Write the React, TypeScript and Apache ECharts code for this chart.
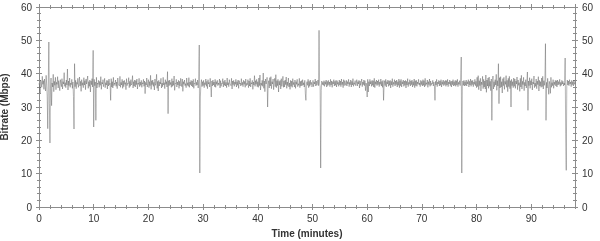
import React, { useEffect, useRef } from "react";
import * as echarts from "echarts";

// Sampling step of the recording (minutes per sample)
const STEP_MIN = 0.1;

// Bitrate samples (Mbps), one every 0.1 minutes from 0 to 98 min (one row per minute)
const bitrate: number[] = [
  37.1, 36.4, 34.2, 38.0, 37.5, 35.9, 39.2, 36.8, 37.9, 35.3,
  38.4, 36.2, 34.8, 39.5, 36.9, 33.1, 23.5, 37.8, 49.5, 31.0,
  19.2, 35.5, 38.7, 30.4, 37.2, 36.0, 39.8, 34.6, 37.7, 36.5,
  38.9, 35.2, 37.4, 36.8, 39.1, 35.7, 37.9, 36.3, 34.9, 38.2,
  37.0, 36.1, 38.5, 35.4, 37.6, 36.9, 40.3, 36.2, 37.3, 35.8,
  38.1, 36.6, 41.4, 35.1, 37.8, 36.4, 38.7, 35.9, 37.2, 36.7,
  38.3, 35.6, 37.5, 33.2, 23.4, 43.0, 36.1, 38.0, 35.5, 37.4,
  36.8, 38.6, 35.9, 37.1, 39.0, 36.3, 37.7, 34.7, 38.2, 36.5,
  37.3, 35.8, 38.8, 36.6, 37.9, 35.2, 38.4, 36.9, 37.0, 39.3,
  35.6, 37.6, 36.2, 38.1, 34.5, 37.8, 36.7, 38.5, 36.0, 47.0,
  24.0, 38.3, 36.4, 37.5, 26.0, 38.9, 35.7, 37.2, 36.8, 38.0,
  35.9, 37.7, 36.5, 39.1, 35.3, 37.4, 36.9, 38.2, 36.1, 37.0,
  38.6, 35.8, 37.3, 36.6, 38.0, 35.4, 37.9, 36.3, 38.4, 36.7,
  37.1, 32.0, 38.5, 36.0, 37.6, 35.7, 38.9, 36.4, 37.2, 36.8,
  38.1, 36.2, 37.5, 35.5, 38.7, 36.9, 37.0, 36.3, 39.2, 35.9,
  37.4, 36.6, 38.3, 35.6, 37.8, 36.1, 38.0, 36.8, 37.3, 35.2,
  38.5, 36.4, 37.1, 36.9, 38.8, 35.8, 37.7, 36.2, 38.2, 36.6,
  37.0, 39.4, 35.7, 37.6, 36.3, 38.1, 36.0, 37.9, 36.7, 38.4,
  35.4, 37.2, 36.8, 38.6, 36.1, 37.5, 36.5, 38.0, 35.9, 37.3,
  36.9, 38.3, 36.2, 37.8, 34.0, 37.4, 36.6, 38.7, 36.0, 37.1,
  38.2, 35.8, 37.6, 36.4, 39.5, 35.3, 37.9, 36.7, 38.1, 36.2,
  37.4, 35.1, 38.4, 36.5, 37.0, 39.8, 35.6, 37.7, 34.8, 38.0,
  36.3, 37.5, 36.9, 38.6, 35.7, 37.2, 36.1, 38.9, 36.6, 37.3,
  35.5, 38.2, 36.8, 37.6, 36.0, 40.6, 28.0, 37.9, 36.4, 38.1,
  36.7, 37.4, 35.9, 38.5, 36.2, 37.8, 36.5, 39.3, 35.0, 37.1,
  36.9, 38.3, 36.0, 37.5, 36.6, 38.0, 35.6, 37.7, 36.3, 38.6,
  37.2, 36.1, 38.4, 34.7, 37.6, 36.8, 38.1, 36.4, 37.0, 35.8,
  38.7, 36.5, 37.3, 36.2, 38.8, 35.9, 37.5, 36.7, 38.0, 36.3,
  37.8, 36.0, 38.3, 35.6, 37.1, 36.9, 38.5, 36.4, 37.4, 36.6,
  38.1, 35.7, 37.9, 48.6, 10.2, 33.0, 36.8, 38.2, 36.1, 37.6,
  36.4, 38.0, 35.8, 37.3, 36.7, 38.4, 36.2, 37.7, 35.5, 38.2,
  36.9, 37.4, 36.0, 38.6, 36.5, 33.0, 37.8, 36.3, 38.1, 36.6,
  37.5, 36.1, 38.3, 35.9, 37.6, 36.8, 38.0, 36.4, 37.2, 36.7,
  38.4, 35.7, 37.9, 36.2, 37.1, 36.9, 38.5, 36.0, 37.7, 36.5,
  38.1, 36.3, 37.4, 35.8, 38.7, 36.6, 37.3, 36.1, 38.2, 36.9,
  37.0, 36.4, 38.6, 35.4, 37.8, 36.7, 38.0, 36.2, 37.5, 36.8,
  38.3, 36.0, 37.6, 36.5, 38.1, 35.6, 37.9, 36.9, 37.2, 36.3,
  38.5, 36.6, 37.4, 36.1, 38.0, 36.8, 37.7, 35.9, 38.4, 36.4,
  37.1, 36.7, 38.2, 35.8, 37.8, 36.3, 38.6, 36.0, 37.3, 36.9,
  38.0, 35.3, 37.5, 36.6, 39.4, 36.2, 37.9, 36.8, 38.3, 36.1,
  37.6, 35.9, 38.7, 36.4, 39.6, 35.1, 37.2, 36.5, 38.0, 36.2,
  40.2, 35.6, 37.8, 34.6, 38.4, 36.9, 37.1, 38.9, 30.0, 36.7,
  37.9, 35.7, 38.8, 36.3, 39.1, 35.5, 37.6, 36.9, 38.4, 35.2,
  37.4, 38.6, 36.1, 39.7, 35.8, 37.9, 36.4, 38.3, 34.5, 37.7,
  36.6, 38.0, 35.4, 38.5, 36.2, 37.3, 39.2, 35.9, 37.8, 36.0,
  38.1, 36.7, 39.0, 35.6, 37.5, 36.4, 38.7, 36.0, 37.2, 35.3,
  38.0, 36.2, 37.8, 35.9, 38.5, 36.7, 37.4, 36.0, 38.1, 35.6,
  37.6, 36.8, 38.3, 36.1, 37.0, 36.5, 38.6, 35.8, 37.7, 36.3,
  37.9, 36.4, 38.2, 36.6, 37.3, 36.0, 38.0, 34.0, 32.0, 36.9,
  37.6, 36.5, 38.3, 35.8, 37.7, 36.2, 38.1, 36.7, 37.4, 36.0,
  36.6, 38.0, 36.1, 37.5, 36.9, 38.4, 36.3, 37.8, 36.5, 37.2,
  38.1, 36.4, 53.0, 37.0, 36.2, 11.7, 35.0, 37.8, 36.7, 37.4,
  36.5, 37.9, 36.2, 37.6, 36.8, 38.1, 36.0, 37.7, 36.4, 38.0,
  36.7, 37.5, 36.1, 38.3, 36.6, 37.8, 35.9, 37.6, 36.9, 38.2,
  36.3, 37.7, 36.5, 38.0, 36.0, 37.9, 36.8, 37.4, 36.2, 38.1,
  36.6, 37.8, 36.1, 38.4, 36.7, 37.5, 35.8, 38.2, 36.4, 37.9,
  37.2, 36.5, 38.0, 36.3, 37.6, 36.9, 38.3, 36.1, 37.4, 36.7,
  38.1, 36.0, 37.7, 36.6, 38.5, 36.2, 37.3, 36.8, 37.9, 36.4,
  37.0, 38.2, 36.3, 37.6, 36.9, 38.0, 35.7, 37.8, 36.5, 37.3,
  38.4, 36.1, 37.5, 36.7, 38.1, 36.4, 37.9, 34.9, 37.2, 36.6,
  33.0, 38.3, 34.5, 37.6, 36.3, 38.3, 36.9, 37.7, 36.2, 38.0,
  36.5, 37.9, 36.0, 38.6, 35.8, 37.6, 36.8, 38.1, 36.4, 37.8,
  36.7, 38.2, 36.1, 37.5, 36.8, 38.4, 36.3, 37.7, 35.9, 38.0,
  32.0, 36.6, 37.9, 36.4, 38.3, 36.0, 37.6, 36.9, 38.1, 36.2,
  37.8, 36.5, 38.0, 35.7, 37.7, 36.6, 38.5, 36.1, 37.4, 36.8,
  38.2, 36.3, 37.8, 36.7, 38.1, 36.0, 37.6, 36.5, 38.4, 35.8,
  37.9, 36.4, 38.3, 36.0, 37.6, 36.9, 38.1, 36.2, 37.8, 36.5,
  38.0, 35.7, 37.7, 36.6, 38.5, 36.1, 37.4, 36.8, 38.2, 36.3,
  37.8, 36.7, 38.1, 36.0, 37.6, 36.5, 38.4, 35.8, 37.9, 36.4,
  38.0, 36.2, 37.5, 36.9, 38.3, 36.6, 37.2, 36.1, 38.0, 36.7,
  37.7, 36.3, 38.2, 36.5, 37.9, 36.0, 38.6, 36.4, 37.3, 36.8,
  38.1, 35.9, 37.6, 36.7, 38.4, 36.2, 37.8, 36.5, 37.1, 36.9,
  38.0, 36.3, 37.5, 36.6, 32.0, 37.7, 36.6, 38.3, 36.1, 37.5,
  36.9, 38.0, 36.3, 37.8, 36.5, 38.2, 36.0, 37.6, 36.8, 38.1,
  36.4, 37.7, 36.7, 38.0, 36.2, 37.9, 36.6, 38.3, 36.1, 37.5,
  36.9, 38.1, 36.4, 37.7, 36.0, 37.8, 36.7, 38.2, 36.3, 37.6,
  36.5, 38.0, 36.2, 37.9, 36.6, 38.3, 36.1, 37.4, 36.8, 37.9,
  36.4, 38.1, 45.0, 10.2, 36.1, 37.8, 36.5, 38.0, 36.3, 37.6,
  36.5, 38.1, 36.3, 37.6, 36.9, 38.2, 36.0, 37.7, 36.6, 38.4,
  36.2, 37.9, 36.7, 38.0, 36.1, 37.5, 36.8, 38.3, 36.4, 37.7,
  35.8, 38.9, 36.1, 39.4, 35.2, 37.9, 36.4, 38.6, 34.8, 37.5,
  36.7, 39.2, 35.5, 38.3, 36.0, 37.8, 35.4, 39.6, 34.4, 38.1,
  36.3, 38.7, 35.6, 39.0, 36.2, 37.7, 34.9, 38.4, 26.0, 37.2,
  39.3, 35.4, 37.6, 36.1, 38.2, 36.6, 39.8, 35.0, 37.9, 36.3,
  43.0, 31.0, 38.8, 35.7, 39.1, 36.0, 37.6, 34.2, 38.5, 36.4,
  38.9, 35.3, 37.7, 36.8, 39.4, 35.9, 38.0, 34.6, 38.6, 36.1,
  39.2, 35.5, 37.9, 30.0, 38.3, 36.4, 37.6, 35.8, 38.7, 36.2,
  38.4, 35.6, 37.8, 36.9, 39.0, 35.2, 38.1, 36.5, 37.3, 34.7,
  38.6, 36.0, 39.5, 35.4, 37.7, 36.7, 38.9, 34.9, 37.4, 36.3,
  38.2, 35.7, 37.6, 40.5, 29.0, 37.8, 36.4, 38.8, 35.6, 37.9,
  36.6, 38.5, 35.1, 37.5, 36.9, 39.3, 35.8, 37.2, 36.2, 38.4,
  35.5, 37.8, 36.7, 39.1, 34.8, 38.0, 36.3, 37.6, 35.9, 38.7,
  36.1, 39.2, 35.4, 37.9, 36.5, 38.3, 49.0, 26.0, 37.4, 35.7,
  38.6, 36.2, 33.8, 37.7, 36.8, 34.1, 38.9, 35.9, 37.3, 36.4,
  38.2, 35.6, 37.5, 36.7, 38.0, 36.3, 37.9, 36.0, 38.1, 36.6,
  37.6, 36.8, 38.3, 36.2, 37.4, 36.5, 38.0, 36.9, 37.7, 36.3,
  37.2, 36.6, 44.7, 22.0, 11.0, 36.2, 38.1, 36.6, 37.8, 36.4,
  38.2, 36.9, 37.5, 36.1, 38.0, 36.7, 37.6, 36.3, 38.1, 36.8,
  37.4,
];

const X_MIN = 0;
const X_MAX = 98;
const Y_MIN = 0;
const Y_MAX = 60;
const X_MAJOR = 10;
const X_MINOR = 2;
const Y_MAJOR = 10;

const AXIS_COLOR = "#8c8c8c";
const LABEL_COLOR = "#333333";
const FONT = "'Liberation Sans', Arial, sans-serif";

export default function App() {
  const ref = useRef<HTMLDivElement>(null);

  useEffect(() => {
    if (!ref.current) return;
    const chart = echarts.init(ref.current, null, { renderer: "svg" });

    const data = bitrate.map((v, i) => [+(i * STEP_MIN).toFixed(1), v]);

    const xAxisBase = (
      position: "bottom" | "top",
      interval: number,
      inside: boolean,
      len: number,
      withLine: boolean,
      withLabels: boolean
    ): any => ({
      type: "value",
      position,
      min: X_MIN,
      max: X_MAX,
      interval,
      splitLine: { show: false },
      axisLine: {
        show: withLine,
        onZero: false,
        lineStyle: { color: AXIS_COLOR, width: 1 },
      },
      axisTick: {
        show: true,
        inside,
        length: len,
        lineStyle: { color: AXIS_COLOR, width: 1 },
      },
      axisLabel: {
        show: withLabels,
        showMaxLabel: false,
        margin: 6,
        color: LABEL_COLOR,
        fontSize: 10,
        fontFamily: FONT,
      },
    });

    const yAxisBase = (
      position: "left" | "right",
      inside: boolean,
      withLine: boolean,
      withLabels: boolean
    ): any => ({
      type: "value",
      position,
      min: Y_MIN,
      max: Y_MAX,
      interval: Y_MAJOR,
      splitLine: { show: false },
      axisLine: {
        show: withLine,
        onZero: false,
        lineStyle: { color: AXIS_COLOR, width: 1 },
      },
      axisTick: {
        show: true,
        inside,
        length: 3,
        lineStyle: { color: AXIS_COLOR, width: 1 },
      },
      minorTick: {
        show: true,
        splitNumber: 5,
        length: 2,
        lineStyle: { color: AXIS_COLOR, width: 1 },
      },
      minorSplitLine: { show: false },
      axisLabel: {
        show: withLabels,
        margin: 7,
        color: LABEL_COLOR,
        fontSize: 10,
        fontFamily: FONT,
      },
    });

    const xMain = xAxisBase("bottom", X_MAJOR, false, 3, true, true);
    xMain.name = "Time (minutes)";
    xMain.nameLocation = "middle";
    xMain.nameGap = 21;
    xMain.nameTextStyle = {
      color: LABEL_COLOR,
      fontSize: 10,
      fontWeight: "bold",
      fontFamily: FONT,
    };

    const yMain = yAxisBase("left", false, true, true);
    yMain.name = "Bitrate (Mbps)";
    yMain.nameLocation = "middle";
    yMain.nameGap = 22;
    yMain.nameTextStyle = {
      color: LABEL_COLOR,
      fontSize: 10,
      fontWeight: "bold",
      fontFamily: FONT,
    };

    chart.setOption({
      animation: false,
      grid: {
        left: 39,
        right: 25,
        top: 7,
        bottom: 34,
        containLabel: false,
        outerBoundsMode: "none",
      },
      xAxis: [
        xMain,
        xAxisBase("bottom", X_MAJOR, true, 3, false, false),
        xAxisBase("bottom", X_MINOR, false, 2, false, false),
        xAxisBase("bottom", X_MINOR, true, 2, false, false),
        xAxisBase("top", X_MAJOR, false, 3, true, false),
        xAxisBase("top", X_MAJOR, true, 3, false, false),
        xAxisBase("top", X_MINOR, false, 2, false, false),
        xAxisBase("top", X_MINOR, true, 2, false, false),
      ],
      yAxis: [
        yMain,
        yAxisBase("left", true, false, false),
        yAxisBase("right", false, true, true),
        yAxisBase("right", true, false, false),
      ],
      series: [
        {
          type: "line",
          xAxisIndex: 0,
          yAxisIndex: 0,
          data,
          showSymbol: false,
          symbol: "none",
          silent: true,
          lineStyle: { color: "rgba(85,85,85,0.7)", width: 0.6 },
        },
      ],
    });

    return () => chart.dispose();
  }, []);

  return (
    <div
      ref={ref}
      style={{ position: "fixed", left: 0, top: 0, width: 600, height: 241 }}
    />
  );
}
